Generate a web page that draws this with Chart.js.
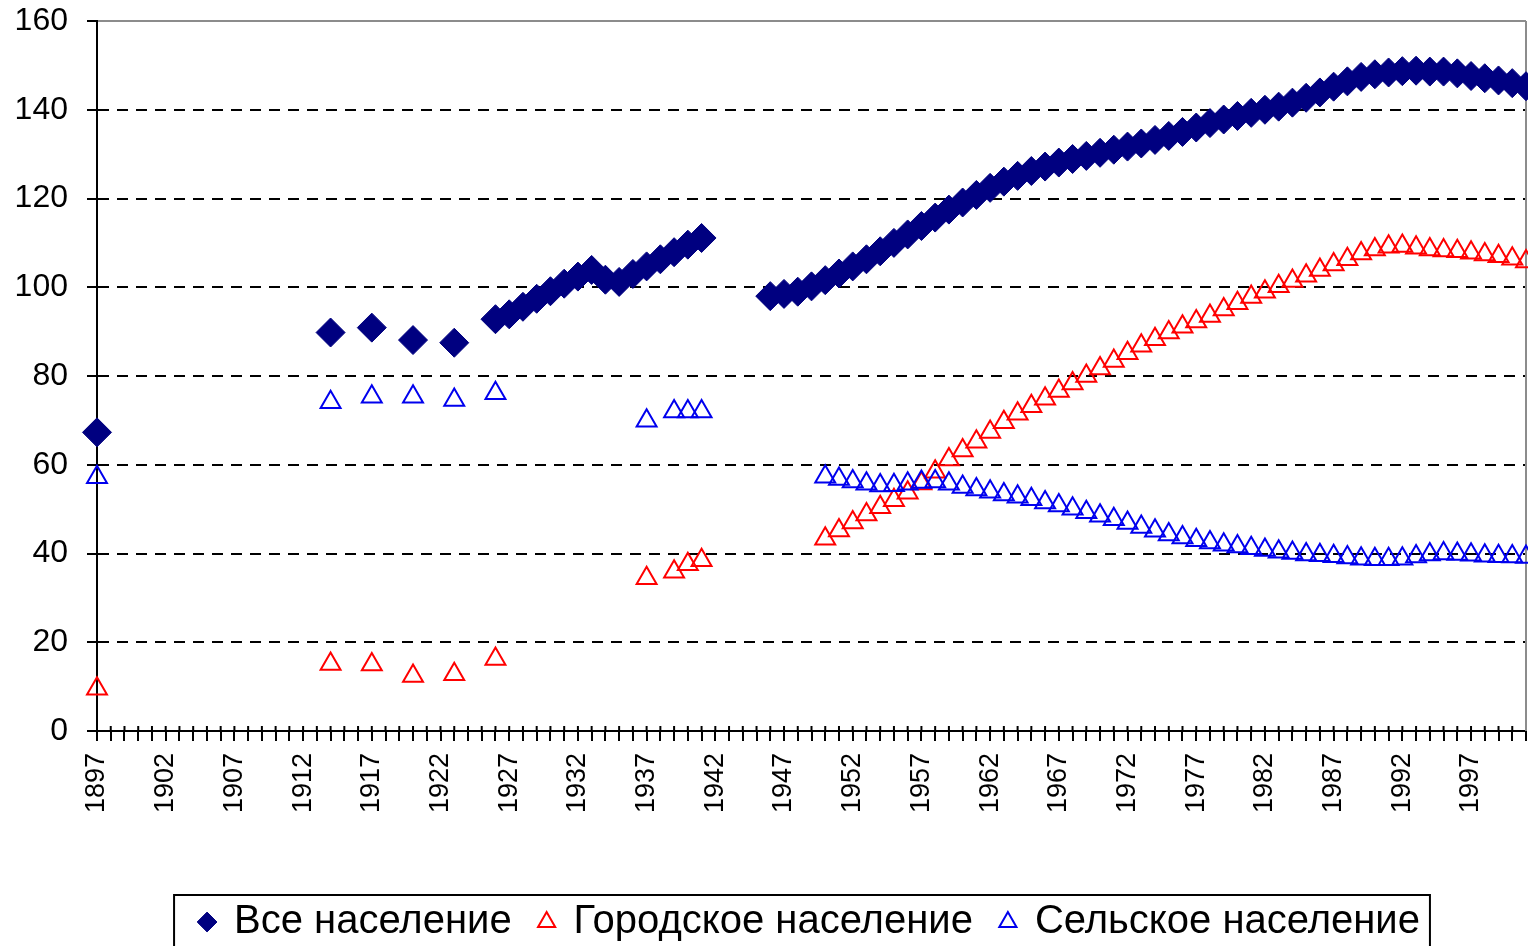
<!DOCTYPE html>
<html>
<head>
<meta charset="utf-8">
<script src="https://cdn.jsdelivr.net/npm/chart.js@4/dist/chart.umd.min.js"></script>
<style>
  html, body { margin: 0; padding: 0; background: #fff; }
  #wrap { width: 1528px; height: 946px; }
</style>
</head>
<body>
<div id="wrap"><canvas id="popChart" width="1528" height="946"></canvas></div>
<script>
// Population of Russia, million people, [year, value]
const firstYear = 1897;
const lastYear = 2001;

const totalPopulation = [
    [1897, 67.3], [1914, 89.8], [1917, 90.9], [1920, 88.1], [1923, 87.5], [1926, 92.8],
    [1927, 93.9], [1928, 95.6], [1929, 97.4], [1930, 99.1], [1931, 100.8], [1932, 102.4],
    [1933, 103.9], [1934, 101.7], [1935, 101.2], [1936, 103.0], [1937, 104.7], [1938, 106.3],
    [1939, 107.9], [1940, 109.6], [1941, 111.1],
    [1946, 98.0], [1947, 98.5], [1948, 99.0], [1949, 100.2], [1950, 101.6], [1951, 103.1],
    [1952, 104.7], [1953, 106.3], [1954, 108.1], [1955, 110.0], [1956, 111.9], [1957, 113.8],
    [1958, 115.7], [1959, 117.5], [1960, 119.1], [1961, 120.8], [1962, 122.4], [1963, 123.8],
    [1964, 125.1], [1965, 126.2], [1966, 127.2], [1967, 128.1], [1968, 128.9], [1969, 129.6],
    [1970, 130.3], [1971, 131.0], [1972, 131.7], [1973, 132.4], [1974, 133.2], [1975, 134.1],
    [1976, 135.0], [1977, 136.0], [1978, 137.0], [1979, 137.8], [1980, 138.6], [1981, 139.3],
    [1982, 140.0], [1983, 140.7], [1984, 141.6], [1985, 142.7], [1986, 143.9], [1987, 145.2],
    [1988, 146.4], [1989, 147.4], [1990, 148.0], [1991, 148.4], [1992, 148.7], [1993, 148.8],
    [1994, 148.6], [1995, 148.6], [1996, 148.2], [1997, 147.6], [1998, 147.1], [1999, 146.6],
    [2000, 146.0], [2001, 145.3]
];

const urbanPopulation = [
    [1897, 9.5], [1914, 15.1], [1917, 15.0], [1920, 12.4], [1923, 12.8], [1926, 16.2],
    [1937, 34.4], [1939, 35.9], [1940, 37.6], [1941, 38.5],
    [1950, 43.3], [1951, 45.2], [1952, 47.0], [1953, 48.8], [1954, 50.4], [1955, 52.0],
    [1956, 53.7], [1957, 55.8], [1958, 58.4], [1959, 61.2], [1960, 63.2], [1961, 65.2],
    [1962, 67.4], [1963, 69.6], [1964, 71.5], [1965, 73.2], [1966, 74.9], [1967, 76.6],
    [1968, 78.3], [1969, 80.0], [1970, 81.7], [1971, 83.4], [1972, 85.1], [1973, 86.8],
    [1974, 88.3], [1975, 89.8], [1976, 91.1], [1977, 92.3], [1978, 93.5], [1979, 95.0],
    [1980, 96.4], [1981, 97.8], [1982, 99.0], [1983, 100.2], [1984, 101.4], [1985, 102.6],
    [1986, 103.9], [1987, 105.1], [1988, 106.3], [1989, 107.6], [1990, 108.5], [1991, 109.1],
    [1992, 109.3], [1993, 108.9], [1994, 108.5], [1995, 108.3], [1996, 108.1], [1997, 107.8],
    [1998, 107.4], [1999, 107.0], [2000, 106.4], [2001, 105.8]
];

const ruralPopulation = [
    [1897, 57.2], [1914, 74.1], [1917, 75.3], [1920, 75.3], [1923, 74.6], [1926, 76.1],
    [1937, 69.9], [1939, 72.0], [1940, 72.0], [1941, 72.0],
    [1950, 57.3], [1951, 56.8], [1952, 56.2], [1953, 55.7], [1954, 55.3], [1955, 55.4],
    [1956, 55.7], [1957, 56.1], [1958, 56.2], [1959, 55.7], [1960, 55.0], [1961, 54.4],
    [1962, 53.9], [1963, 53.3], [1964, 52.8], [1965, 52.2], [1966, 51.5], [1967, 50.8],
    [1968, 50.1], [1969, 49.3], [1970, 48.5], [1971, 47.7], [1972, 46.9], [1973, 46.0],
    [1974, 45.1], [1975, 44.3], [1976, 43.6], [1977, 43.0], [1978, 42.5], [1979, 42.0],
    [1980, 41.6], [1981, 41.2], [1982, 40.8], [1983, 40.4], [1984, 40.1], [1985, 39.8],
    [1986, 39.6], [1987, 39.4], [1988, 39.1], [1989, 38.8], [1990, 38.7], [1991, 38.7],
    [1992, 38.8], [1993, 39.3], [1994, 39.8], [1995, 40.0], [1996, 39.9], [1997, 39.7],
    [1998, 39.5], [1999, 39.4], [2000, 39.3], [2001, 39.2]
];

const seriesNames = ['Все население', 'Городское население', 'Сельское население'];
const yTicks = [0, 20, 40, 60, 80, 100, 120, 140, 160];
const labelEvery = 5;

// layout constants (pixels)
const PLOT_LEFT = 97;
const PLOT_TOP = 21;
const PLOT_BOTTOM = 731;
const LEGEND_FONT = 40;
const LEGEND_CENTER_X = 810;
const LEGEND_CENTER_Y = 922;

// category labels: one per year
const years = [];
for (let y = firstYear; y <= lastYear; y++) years.push(String(y));

const toPoints = pairs => pairs.map(([year, value]) => ({ x: String(year), y: value }));

// extra drawing: inner halves of x ticks, right border, legend frame
const frameAndLegend = {
    id: 'frameAndLegend',
    afterLayout(chart) {
        const lg = chart.legend;
        const pad = lg.options.labels.padding;
        const start = (lg.left + pad + lg.right - lg.lineWidths[0]) / 2;
        const dx = LEGEND_CENTER_X - (start + (lg.lineWidths[0] - pad) / 2);
        const dy = LEGEND_CENTER_Y - (lg.top + pad + LEGEND_FONT / 2);
        lg.left += dx; lg.right += dx;
        lg.top += dy; lg.bottom += dy;
    },
    beforeDatasetsDraw(chart) {
        const { ctx, chartArea, scales: { x } } = chart;
        ctx.save();
        ctx.strokeStyle = '#000';
        ctx.lineWidth = 2;
        ctx.beginPath();
        x.ticks.forEach((t, i) => {
            const px = x.getPixelForTick(i);
            ctx.moveTo(px, chartArea.bottom);
            ctx.lineTo(px, chartArea.bottom - 5);
        });
        ctx.stroke();
        ctx.strokeStyle = '#8c8c8c';
        ctx.beginPath();
        ctx.moveTo(chartArea.right, chartArea.top);
        ctx.lineTo(chartArea.right, chartArea.bottom);
        ctx.stroke();
        ctx.restore();
    },
    afterDraw(chart) {
        const { ctx } = chart;
        const lg = chart.legend;
        const pad = lg.options.labels.padding;
        const start = (lg.left + pad + lg.right - lg.lineWidths[0]) / 2;
        const end = start + lg.lineWidths[0] - pad;
        const cy = lg.top + pad + LEGEND_FONT / 2;
        ctx.save();
        ctx.strokeStyle = '#000';
        ctx.lineWidth = 2;
        ctx.strokeRect(start - 26, cy - 27, end - start + 36, 60);
        ctx.restore();
    }
};

function createPopulationChart() {
    const ctx = document.getElementById('popChart').getContext('2d');

    new Chart(ctx, {
        type: 'line',
        data: {
            labels: years,
            datasets: [
                {
                    label: seriesNames[0],
                    data: toPoints(totalPopulation),
                    showLine: false,
                    pointStyle: 'rectRot',
                    pointRadius: 14.5,
                    pointBorderWidth: 1,
                    pointBackgroundColor: '#000080',
                    pointBorderColor: '#000080',
                    backgroundColor: '#000080',
                    borderColor: '#000080',
                    clip: false,
                    order: 3
                },
                {
                    label: seriesNames[1],
                    data: toPoints(urbanPopulation),
                    showLine: false,
                    pointStyle: 'triangle',
                    pointRadius: 11.5,
                    pointBorderWidth: 2,
                    pointBackgroundColor: 'rgba(255,255,255,0)',
                    pointBorderColor: '#ff0000',
                    backgroundColor: 'rgba(255,255,255,0)',
                    borderColor: '#ff0000',
                    clip: false,
                    order: 2
                },
                {
                    label: seriesNames[2],
                    data: toPoints(ruralPopulation),
                    showLine: false,
                    pointStyle: 'triangle',
                    pointRadius: 11.5,
                    pointBorderWidth: 2,
                    pointBackgroundColor: 'rgba(255,255,255,0)',
                    pointBorderColor: '#0000ee',
                    backgroundColor: 'rgba(255,255,255,0)',
                    borderColor: '#0000ee',
                    clip: false,
                    order: 1
                }
            ]
        },
        options: {
            responsive: false,
            animation: false,
            events: [],
            layout: { autoPadding: false, padding: { top: PLOT_TOP, right: 2, left: 0, bottom: 0 } },
            scales: {
                x: {
                    type: 'category',
                    offset: false,
                    grid: {
                        display: true,
                        drawOnChartArea: false,
                        tickLength: 10,
                        tickWidth: 2,
                        tickColor: '#000',
                        color: '#000',
                        lineWidth: 2
                    },
                    border: { display: true, color: '#000', width: 2 },
                    ticks: {
                        autoSkip: false,
                        minRotation: 90,
                        maxRotation: 90,
                        padding: 12,
                        color: '#000',
                        font: { family: 'Liberation Sans', size: 27 },
                        callback: function (value) {
                            const year = Number(this.getLabelForValue(value));
                            return (year - firstYear) % labelEvery === 0 ? String(year) : '';
                        }
                    },
                    afterFit: scale => {
                        scale.height = scale.chart.height - PLOT_BOTTOM - scale.chart.legend.height;
                        scale.paddingLeft = 0;
                        scale.paddingRight = 0;
                    }
                },
                y: {
                    min: yTicks[0],
                    max: yTicks[yTicks.length - 1],
                    afterBuildTicks: scale => {
                        scale.ticks = yTicks.map(v => ({ value: v }));
                    },
                    ticks: {
                        padding: 19,
                        color: '#000',
                        font: { family: 'Liberation Sans', size: 32 }
                    },
                    grid: {
                        color: c => {
                            if (!c.tick) return '#000';
                            if (c.tick.value === 160) return '#8c8c8c';
                            if (c.tick.value === 0) return 'rgba(0,0,0,0)';
                            return '#000';
                        },
                        lineWidth: 2,
                        tickLength: 10,
                        tickWidth: 2,
                        tickColor: '#000'
                    },
                    border: {
                        display: true,
                        color: '#000',
                        width: 2,
                        dash: c => (c.tick && c.tick.value !== 160 && c.tick.value !== 0) ? [11, 8] : []
                    },
                    afterFit: scale => {
                        scale.width = PLOT_LEFT;
                        scale.paddingTop = 0;
                        scale.paddingBottom = 0;
                    }
                }
            },
            plugins: {
                tooltip: { enabled: false },
                legend: {
                    position: 'bottom',
                    labels: {
                        usePointStyle: true,
                        boxWidth: 14,
                        boxHeight: 14,
                        padding: 28,
                        color: '#000',
                        font: { family: 'Liberation Sans', size: LEGEND_FONT },
                        sort: (a, b) => a.datasetIndex - b.datasetIndex
                    }
                }
            }
        },
        plugins: [frameAndLegend]
    });
}

window.onload = createPopulationChart;
</script>
</body>
</html>
